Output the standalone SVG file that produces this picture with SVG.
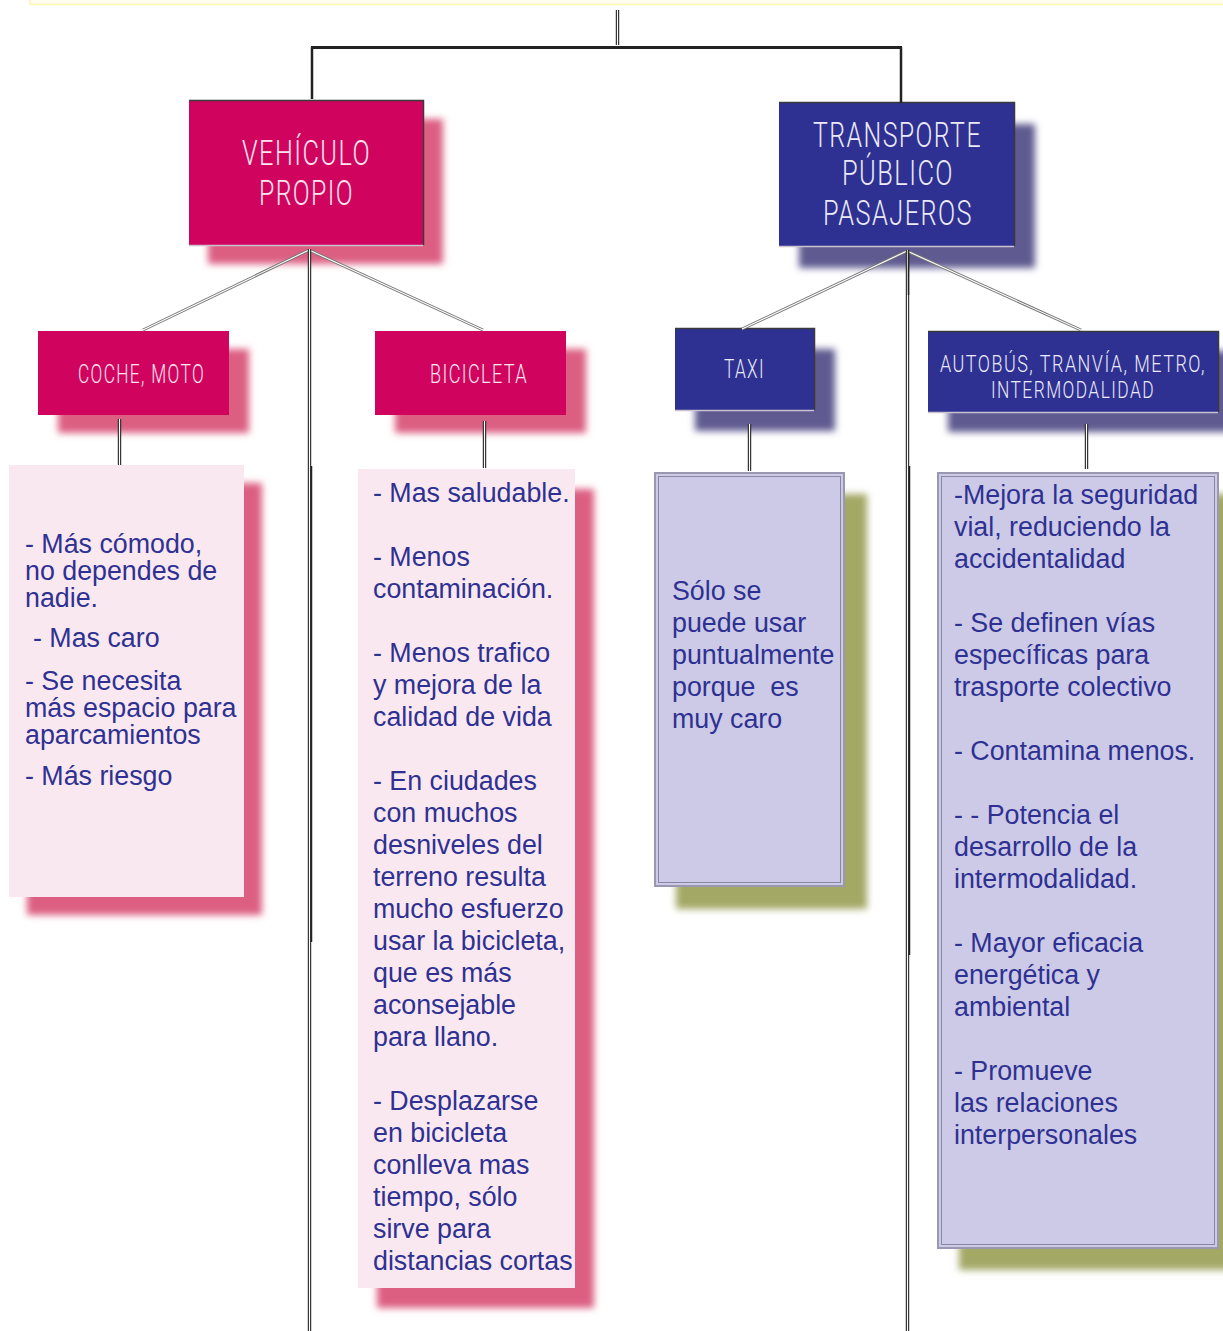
<svg xmlns="http://www.w3.org/2000/svg" width="1223" height="1331" viewBox="0 0 1223 1331">
<defs>
<filter id="blur" x="-20%" y="-20%" width="140%" height="140%"><feGaussianBlur stdDeviation="3.5"/></filter>
<style>
.hp{fill:#d0045f}
.hb{fill:#2e3192}
.shp{fill:#dc5f82;filter:url(#blur)}
.shb{fill:#5f5a90;filter:url(#blur)}
.sho{fill:#a3a865;filter:url(#blur)}
.pk{fill:#fae8f0}
.lv{fill:#cccae6;stroke:#9a98b0;stroke-width:2}
.lvi{fill:none;stroke:#8886a0;stroke-width:1}
.ht{font-family:Roboto,"Liberation Sans",sans-serif;font-weight:300;letter-spacing:2px}
.htp{fill:#fbe6f0}
.htb{fill:#eceaf8}
.bt{font-family:"Liberation Sans",Arial,sans-serif;font-size:26.8px;fill:#2e3192;white-space:pre}
.dk{stroke:#3a3a3a;stroke-width:1.5;fill:none}
.lt{stroke:#c9c3d0;stroke-width:1.5;fill:none}
.dbo{stroke:#222;stroke-width:3.4;fill:none}
.dbi{stroke:#fff;stroke-width:1.2;fill:none}
.dgo{stroke:#777;stroke-width:3;fill:none}
.dgi{stroke:#fff;stroke-width:1.1;fill:none}
</style>
</defs>
<rect width="1223" height="1331" fill="#fff"/>
<rect x="30" y="-6" width="1200" height="10.5" fill="#fffdf0" stroke="#fdf6b0" stroke-width="1.5"/>

<g id="vehiculo-propio">
  <rect x="208" y="119" width="235" height="145" class="shp"/>
  <rect x="189" y="100" width="235" height="145" class="hp"/>
  <polyline points="189,100.5 423.5,100.5 423.5,245" class="dk"/>
  <line x1="189" y1="245.5" x2="423" y2="245.5" class="lt"/>
  <text class="ht htp" font-size="35" x="242" y="165" textLength="129" lengthAdjust="spacingAndGlyphs">VEHÍCULO</text>
  <text class="ht htp" font-size="35" x="259" y="205" textLength="95" lengthAdjust="spacingAndGlyphs">PROPIO</text>
</g>

<g id="transporte-publico">
  <rect x="799" y="124" width="236" height="144" class="shb"/>
  <rect x="779" y="102" width="236" height="144" class="hb"/>
  <polyline points="779,102.5 1014.5,102.5 1014.5,246" class="dk"/>
  <line x1="779" y1="246.5" x2="1014" y2="246.5" class="lt"/>
  <text class="ht htb" font-size="35" x="813" y="147" textLength="169" lengthAdjust="spacingAndGlyphs">TRANSPORTE</text>
  <text class="ht htb" font-size="35" x="842" y="185" textLength="112" lengthAdjust="spacingAndGlyphs">PÚBLICO</text>
  <text class="ht htb" font-size="35" x="823" y="225" textLength="150" lengthAdjust="spacingAndGlyphs">PASAJEROS</text>
</g>

<g id="coche-moto">
  <rect x="58" y="349" width="191" height="84" class="shp"/>
  <rect x="38" y="331" width="191" height="84" class="hp"/>
  <text class="ht htp" font-size="26" x="78" y="383" textLength="127" lengthAdjust="spacingAndGlyphs">COCHE, MOTO</text>
</g>

<g id="bicicleta">
  <rect x="395" y="349" width="191" height="84" class="shp"/>
  <rect x="375" y="331" width="191" height="84" class="hp"/>
  <text class="ht htp" font-size="26" x="430" y="383" textLength="98" lengthAdjust="spacingAndGlyphs">BICICLETA</text>
</g>

<g id="taxi">
  <rect x="695" y="349" width="140" height="82" class="shb"/>
  <rect x="675" y="328" width="140" height="82" class="hb"/>
  <polyline points="675,328.5 814.5,328.5 814.5,410" class="dk"/>
  <line x1="675" y1="410.5" x2="814" y2="410.5" class="lt"/>
  <text class="ht htb" font-size="25" x="724" y="378" textLength="41" lengthAdjust="spacingAndGlyphs">TAXI</text>
</g>

<g id="autobus">
  <rect x="948" y="351" width="291" height="81" class="shb"/>
  <rect x="928" y="331" width="291" height="81" class="hb"/>
  <polyline points="928,331.5 1218.5,331.5 1218.5,412" class="dk"/>
  <line x1="928" y1="412.5" x2="1218" y2="412.5" class="lt"/>
  <text class="ht htb" font-size="24" x="940" y="372" textLength="266" lengthAdjust="spacingAndGlyphs">AUTOBÚS, TRANVÍA, METRO,</text>
  <text class="ht htb" font-size="24" x="991" y="398" textLength="164" lengthAdjust="spacingAndGlyphs">INTERMODALIDAD</text>
</g>

<g id="coche-texto">
  <rect x="27" y="483" width="235" height="432" class="shp"/>
  <rect x="9" y="465" width="235" height="432" class="pk"/>
  <text class="bt">
    <tspan x="25" y="553">- Más cómodo,</tspan>
    <tspan x="25" y="580">no dependes de</tspan>
    <tspan x="25" y="607">nadie.</tspan>
    <tspan x="33" y="647">- Mas caro</tspan>
    <tspan x="25" y="690">- Se necesita</tspan>
    <tspan x="25" y="717">más espacio para</tspan>
    <tspan x="25" y="744">aparcamientos</tspan>
    <tspan x="25" y="785">- Más riesgo</tspan>
  </text>
</g>

<g id="bicicleta-texto">
  <rect x="377" y="489" width="217" height="819" class="shp"/>
  <rect x="358" y="469" width="217" height="819" class="pk"/>
  <text class="bt">
    <tspan x="373" y="502">- Mas saludable.</tspan>
    <tspan x="373" y="566">- Menos</tspan>
    <tspan x="373" y="598">contaminación.</tspan>
    <tspan x="373" y="662">- Menos trafico</tspan>
    <tspan x="373" y="694">y mejora de la</tspan>
    <tspan x="373" y="726">calidad de vida</tspan>
    <tspan x="373" y="790">- En ciudades</tspan>
    <tspan x="373" y="822">con muchos</tspan>
    <tspan x="373" y="854">desniveles del</tspan>
    <tspan x="373" y="886">terreno resulta</tspan>
    <tspan x="373" y="918">mucho esfuerzo</tspan>
    <tspan x="373" y="950">usar la bicicleta,</tspan>
    <tspan x="373" y="982">que es más</tspan>
    <tspan x="373" y="1014">aconsejable</tspan>
    <tspan x="373" y="1046">para llano.</tspan>
    <tspan x="373" y="1110">- Desplazarse</tspan>
    <tspan x="373" y="1142">en bicicleta</tspan>
    <tspan x="373" y="1174">conlleva mas</tspan>
    <tspan x="373" y="1206">tiempo, sólo</tspan>
    <tspan x="373" y="1238">sirve para</tspan>
    <tspan x="373" y="1270">distancias cortas</tspan>
  </text>
</g>

<g id="taxi-texto">
  <rect x="676" y="494" width="191" height="415" class="sho"/>
  <rect x="655" y="473" width="189" height="413" class="lv"/>
  <rect x="658.5" y="476.5" width="182" height="406" class="lvi"/>
  <text class="bt">
    <tspan x="672" y="600">Sólo se</tspan>
    <tspan x="672" y="632">puede usar</tspan>
    <tspan x="672" y="664">puntualmente</tspan>
    <tspan x="672" y="696">porque  es</tspan>
    <tspan x="672" y="728">muy caro</tspan>
  </text>
</g>

<g id="autobus-texto">
  <rect x="959" y="494" width="281" height="776" class="sho"/>
  <rect x="938" y="473" width="280" height="775" class="lv"/>
  <rect x="941.5" y="476.5" width="273" height="768" class="lvi"/>
  <text class="bt">
    <tspan x="954" y="504">-Mejora la seguridad</tspan>
    <tspan x="954" y="536">vial, reduciendo la</tspan>
    <tspan x="954" y="568">accidentalidad</tspan>
    <tspan x="954" y="632">- Se definen vías</tspan>
    <tspan x="954" y="664">específicas para</tspan>
    <tspan x="954" y="696">trasporte colectivo</tspan>
    <tspan x="954" y="760">- Contamina menos.</tspan>
    <tspan x="954" y="824">- - Potencia el</tspan>
    <tspan x="954" y="856">desarrollo de la</tspan>
    <tspan x="954" y="888">intermodalidad.</tspan>
    <tspan x="954" y="952">- Mayor eficacia</tspan>
    <tspan x="954" y="984">energética y</tspan>
    <tspan x="954" y="1016">ambiental</tspan>
    <tspan x="954" y="1080">- Promueve</tspan>
    <tspan x="954" y="1112">las relaciones</tspan>
    <tspan x="954" y="1144">interpersonales</tspan>
  </text>
</g>

<g id="connectors">
  <line x1="617.5" y1="10" x2="617.5" y2="45" class="dbo"/>
  <line x1="617.5" y1="10" x2="617.5" y2="45" class="dbi"/>
  <line x1="311" y1="47.5" x2="902" y2="47.5" stroke="#222" stroke-width="3"/>
  <line x1="312" y1="47" x2="312" y2="99" stroke="#222" stroke-width="2.5"/>
  <line x1="901" y1="47" x2="901" y2="103" stroke="#222" stroke-width="2.5"/>
  <line x1="309" y1="250" x2="143" y2="330" class="dgo"/>
  <line x1="309" y1="250" x2="143" y2="330" class="dgi"/>
  <line x1="309" y1="250" x2="483" y2="330" class="dgo"/>
  <line x1="309" y1="250" x2="483" y2="330" class="dgi"/>
  <line x1="907" y1="251" x2="742" y2="329" class="dgo"/>
  <line x1="907" y1="251" x2="742" y2="329" class="dgi"/>
  <line x1="907" y1="251" x2="1081" y2="330" class="dgo"/>
  <line x1="907" y1="251" x2="1081" y2="330" class="dgi"/>
  <line x1="309.5" y1="249" x2="309.5" y2="1331" class="dbo"/>
  <line x1="309.5" y1="249" x2="309.5" y2="1331" class="dbi"/>
  <line x1="311.5" y1="466" x2="311.5" y2="942" stroke="#222" stroke-width="1.5"/>
  <line x1="907.5" y1="250" x2="907.5" y2="1331" class="dbo"/>
  <line x1="907.5" y1="250" x2="907.5" y2="1331" class="dbi"/>
  <line x1="909.5" y1="466" x2="909.5" y2="955" stroke="#222" stroke-width="1.5"/>
  <line x1="908.5" y1="250" x2="908.5" y2="295" stroke="#222" stroke-width="1.5"/>
  <line x1="119.5" y1="419" x2="119.5" y2="465" class="dbo"/>
  <line x1="119.5" y1="419" x2="119.5" y2="465" class="dbi"/>
  <line x1="484.5" y1="421" x2="484.5" y2="468" class="dbo"/>
  <line x1="484.5" y1="421" x2="484.5" y2="468" class="dbi"/>
  <line x1="749.5" y1="424" x2="749.5" y2="471" class="dbo"/>
  <line x1="749.5" y1="424" x2="749.5" y2="471" class="dbi"/>
  <line x1="1086.5" y1="424" x2="1086.5" y2="469" class="dbo"/>
  <line x1="1086.5" y1="424" x2="1086.5" y2="469" class="dbi"/>
</g>
</svg>
